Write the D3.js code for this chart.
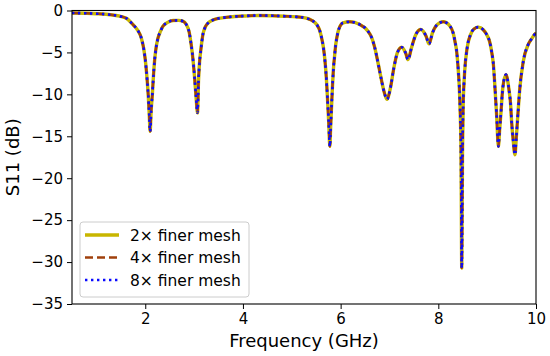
<!DOCTYPE html>
<html>
<head>
<meta charset="utf-8">
<script src="https://cdn.jsdelivr.net/npm/d3@7"></script>
<style>
  body { margin: 0; background: #fff; }
  svg { font-family: "DejaVu Sans", sans-serif; }
</style>
</head>
<body>
<svg id="chart" width="550" height="356"></svg>
<script>
// Frequency samples (GHz)
const freqGHz = [0.5, 0.8, 1.0, 1.2, 1.35, 1.48, 1.62, 1.75, 1.85, 1.92, 1.97, 2.01, 2.04, 2.06, 2.08, 2.10,
  2.12, 2.145, 2.17, 2.19, 2.22, 2.26, 2.31, 2.36, 2.45, 2.57, 2.68, 2.77, 2.84, 2.90, 2.94, 2.98, 3.01,
  3.04, 3.07, 3.09, 3.11, 3.135, 3.18, 3.23, 3.29, 3.38, 3.49, 3.65, 3.83, 4.05, 4.31, 4.6, 4.86, 5.1,
  5.27, 5.4, 5.51, 5.57, 5.61, 5.65, 5.68, 5.71, 5.73, 5.755, 5.78, 5.795, 5.81, 5.83, 5.85, 5.875,
  5.9, 5.93, 5.96, 6.05, 6.19, 6.39, 6.56, 6.64, 6.70, 6.75, 6.80, 6.87, 6.91, 6.95, 6.99, 7.02, 7.09,
  7.16, 7.25, 7.33, 7.38, 7.45, 7.54, 7.64, 7.75, 7.81, 7.88, 7.98, 8.10, 8.24, 8.30, 8.34, 8.375, 8.41,
  8.43, 8.45, 8.465, 8.48, 8.495, 8.51, 8.525, 8.54, 8.59, 8.66, 8.73, 8.82, 8.92, 8.99, 9.05, 9.09,
  9.13, 9.16, 9.195, 9.23, 9.255, 9.28, 9.32, 9.385, 9.45, 9.48, 9.50, 9.535, 9.57, 9.595, 9.62,
  9.67, 9.74, 9.84, 9.92, 9.98, 10.0];

// S11 (dB); the 2x, 4x and 8x mesh curves coincide in the picture
const s11dB = [-0.3, -0.33, -0.38, -0.45, -0.55, -0.68, -0.95, -1.7, -2.4, -3.3, -4.6, -6.4, -8.4, -10.0, -12.2, -14.4,
  -12.0, -10.0, -7.6, -6.05, -4.5, -3.3, -2.5, -1.9, -1.45, -1.2, -1.18, -1.27, -1.67, -2.6, -4.06, -6.0, -8.0,
  -10.3, -12.2, -8.4, -6.3, -4.85, -2.87, -1.95, -1.47, -1.15, -0.95, -0.82, -0.72, -0.65, -0.6, -0.62, -0.68, -0.76,
  -0.88, -1.15, -1.67, -2.35, -3.26, -4.5, -6.05, -8.3, -10.4, -13.2, -16.2, -14.0, -12.0, -9.4, -7.2, -5.5,
  -4.06, -3.0, -2.27, -1.47, -1.35, -1.67, -2.47, -3.3, -4.46, -5.8, -7.24, -9.23, -10.1, -10.6, -10.0, -9.23, -6.85,
  -5.06, -4.38, -5.06, -5.86, -4.46, -2.87, -2.27, -3.07, -3.98, -2.67, -1.67, -1.35, -1.87, -2.6, -3.66, -4.85, -7.24,
  -9.2, -12.5, -17.0, -30.7, -17.0, -11.0, -8.8, -7.24, -4.46, -2.87, -2.2, -1.98, -2.3, -2.87, -3.7, -4.85,
  -6.6, -9.23, -12.6, -16.2, -14.3, -12.4, -9.23, -7.65, -9.6, -11.2, -13.2, -15.6, -17.2, -15.3, -13.2,
  -9.23, -6.05, -4.06, -3.3, -2.79, -2.7];

const seriesNames = ["2\u00d7 finer mesh", "4\u00d7 finer mesh", "8\u00d7 finer mesh"];
const seriesValues = [s11dB, s11dB, s11dB];
const xTicks = [2, 4, 6, 8, 10];
const yTicks = [0, -5, -10, -15, -20, -25, -30, -35];

const styles = [
  { color: "#c8b600", width: 3.4, dash: null },
  { color: "#a0400c", width: 2.6, dash: "8,4" },
  { color: "#0a0aff", width: 2.6, dash: "2.4,3.6" }
];

const width = 550, height = 356;
const margin = { top: 10.5, right: 14, bottom: 52, left: 72 };
const iw = width - margin.left - margin.right;
const ih = height - margin.top - margin.bottom;

const svg = d3.select("#chart");
const g = svg.append("g").attr("transform", `translate(${margin.left},${margin.top})`);

const x = d3.scaleLinear().domain([0.5, 10]).range([0, iw]);
const y = d3.scaleLinear().domain([-35, 0]).range([ih, 0]);

g.append("defs").append("clipPath").attr("id", "clip")
  .append("rect").attr("width", iw).attr("height", ih);

const line = d3.line()
  .x(d => x(d[0]))
  .y(d => y(d[1]))
  .curve(d3.curveMonotoneX);

const plot = g.append("g").attr("clip-path", "url(#clip)");
seriesValues.forEach((vals, i) => {
  const pts = freqGHz.map((f, k) => [f, vals[k]]);
  plot.append("path")
    .attr("d", line(pts))
    .attr("fill", "none")
    .attr("stroke", styles[i].color)
    .attr("stroke-width", styles[i].width)
    .attr("stroke-dasharray", styles[i].dash)
    .attr("stroke-linejoin", "round");
});

// axes
const fmt = d => String(d).replace("-", "\u2212");
const xAxis = g.append("g").attr("transform", `translate(0,${ih})`)
  .call(d3.axisBottom(x).tickValues(xTicks).tickSize(5).tickPadding(4).tickFormat(fmt));
const yAxis = g.append("g")
  .call(d3.axisLeft(y).tickValues(yTicks).tickSize(5).tickPadding(4).tickFormat(fmt));

[xAxis, yAxis].forEach(a => {
  a.selectAll("text").attr("font-size", 15).attr("fill", "#000")
    .attr("font-family", "DejaVu Sans, sans-serif");
  a.selectAll("line").attr("stroke", "#000").attr("stroke-width", 1);
  a.select(".domain").remove();
});

// frame
g.append("rect").attr("width", iw).attr("height", ih)
  .attr("fill", "none").attr("stroke", "#000").attr("stroke-width", 1.1);

// labels
svg.append("text")
  .attr("x", margin.left + iw / 2).attr("y", 347)
  .attr("text-anchor", "middle").attr("font-size", 18)
  .text("Frequency (GHz)");
svg.append("text")
  .attr("transform", `translate(19,${margin.top + ih / 2}) rotate(-90)`)
  .attr("text-anchor", "middle").attr("font-size", 18)
  .text("S11 (dB)");

// legend
const lg = svg.append("g");
lg.append("rect")
  .attr("x", 80).attr("y", 222).attr("width", 169).attr("height", 75).attr("rx", 3)
  .attr("fill", "#fff").attr("fill-opacity", 0.8)
  .attr("stroke", "#ccc").attr("stroke-width", 1);
const rowsY = [235, 257.5, 280];
seriesNames.forEach((name, i) => {
  lg.append("line")
    .attr("x1", 85).attr("x2", 119).attr("y1", rowsY[i]).attr("y2", rowsY[i])
    .attr("stroke", styles[i].color).attr("stroke-width", styles[i].width)
    .attr("stroke-dasharray", styles[i].dash);
  lg.append("text")
    .attr("x", 130).attr("y", rowsY[i] + 5.5)
    .attr("font-size", 15.5)
    .text(name);
});
</script>
</body>
</html>
